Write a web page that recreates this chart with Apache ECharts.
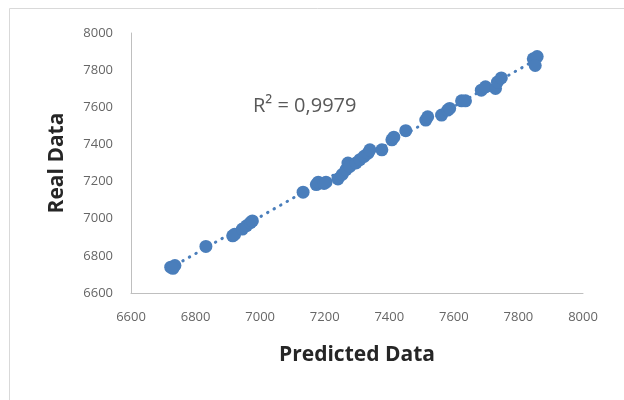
<!DOCTYPE html>
<html>
<head>
<meta charset="utf-8">
<script src="https://cdn.jsdelivr.net/npm/echarts@6/dist/echarts.min.js"></script>
<style>html,body{margin:0;padding:0;background:#fff}#c{width:624px;height:400px}</style>
</head>
<body>
<div id="c"></div>
<script>
var predicted = [6723, 6736, 6730, 6832, 6915, 6921, 6945, 6958, 6970, 6976,
  7133, 7174, 7180, 7198, 7204, 7241, 7254, 7266, 7272, 7278, 7297, 7309, 7322, 7334, 7340,
  7377, 7408, 7414, 7451, 7513, 7519, 7562, 7581, 7587, 7624, 7636,
  7685, 7698, 7729, 7735, 7747, 7846, 7858, 7852];
var real = [6739, 6748, 6733, 6851, 6908, 6916, 6944, 6962, 6979, 6988,
  7143, 7184, 7197, 7190, 7197, 7214, 7238, 7264, 7300, 7282, 7300, 7318, 7336, 7353, 7371,
  7371, 7425, 7439, 7474, 7531, 7549, 7558, 7585, 7594, 7635, 7635,
  7692, 7710, 7701, 7736, 7758, 7861, 7873, 7825];
var trendX = [6720, 7860];
var trendY = [6733, 7862];
var xTicks = [6600, 6800, 7000, 7200, 7400, 7600, 7800, 8000];
var yTicks = [6600, 6800, 7000, 7200, 7400, 7600, 7800, 8000];
var r2Text = 'R² = 0,9979';

var points = predicted.map(function (v, i) { return [v, real[i]]; });
var trend = trendX.map(function (v, i) { return [v, trendY[i]]; });
var blue = '#4A7EBB';
var plain = function (v) { return String(v); };
var chart = echarts.init(document.getElementById('c'), null, {renderer: 'canvas'});
chart.setOption({
  animation: false,
  backgroundColor: '#fff',
  grid: {left: 131, right: 41, top: 33, bottom: 107, containLabel: false},
  graphic: [
    {type: 'rect', left: 7, top: 6, shape: {width: 700, height: 500},
     style: {fill: 'none', stroke: '#d9d9d9', lineWidth: 1}, silent: true},
    {type: 'text', left: 253, top: 96, style: {text: r2Text, fill: '#595959',
     font: '20px "Open Sans", sans-serif'}, z: 10}
  ],
  xAxis: {
    type: 'value', min: xTicks[0], max: xTicks[xTicks.length - 1], interval: 200,
    name: 'Predicted Data', nameLocation: 'middle', nameGap: 52,
    nameTextStyle: {fontFamily: 'Open Sans', fontWeight: 'bold', fontSize: 21, color: '#262626'},
    axisLine: {show: true, lineStyle: {color: '#bfbfbf', width: 1}},
    axisTick: {show: false}, splitLine: {show: false},
    axisLabel: {color: '#666', fontFamily: 'Open Sans', fontSize: 13, margin: 18, formatter: plain}
  },
  yAxis: {
    type: 'value', min: yTicks[0], max: yTicks[yTicks.length - 1], interval: 200,
    name: 'Real Data', nameLocation: 'middle', nameGap: 63, nameRotate: 90,
    nameTextStyle: {fontFamily: 'Open Sans', fontWeight: 'bold', fontSize: 21, color: '#262626'},
    axisLine: {show: true, lineStyle: {color: '#bfbfbf', width: 1}},
    axisTick: {show: false}, splitLine: {show: false},
    axisLabel: {color: '#666', fontFamily: 'Open Sans', fontSize: 13, margin: 18, formatter: plain}
  },
  series: [
    {type: 'line', data: trend, symbol: 'none', z: 1,
     lineStyle: {color: blue, width: 3, type: [0.5, 7], cap: 'round'}},
    {type: 'scatter', data: points, symbol: 'circle', symbolSize: 13, z: 2,
     itemStyle: {color: blue, opacity: 1}}
  ]
});
</script>
</body>
</html>
